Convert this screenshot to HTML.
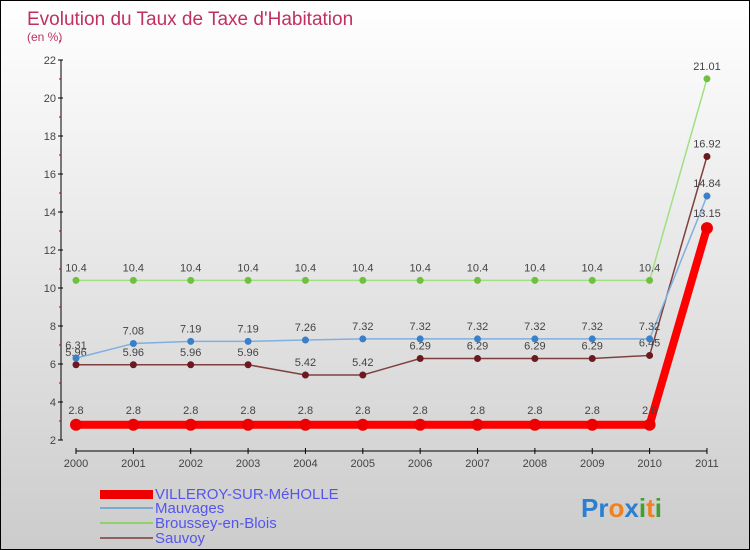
<!DOCTYPE html>
<html><head><meta charset="utf-8"><style>
body{margin:0}
#c{width:748px;height:548px;border:1px solid #000;background:linear-gradient(#fff,#ccc);position:relative;font-family:"Liberation Sans",sans-serif;overflow:hidden}
</style></head><body>
<div id="c">
<svg id="s" width="748" height="548" style="position:absolute;left:0;top:0">
<text x="26" y="24" font-size="19" fill="#c03060">Evolution du Taux de Taxe d'Habitation</text>
<text x="26" y="40" font-size="12" fill="#c03060">(en %)</text>
<g id="axes"></g><g id="marks"></g>
<g>
<rect x="99" y="489" width="53" height="9" fill="#e00"/>
<text x="154" y="498" font-size="15" fill="#5555ee">VILLEROY-SUR-MéHOLLE</text>
<line x1="99" y1="507" x2="152" y2="507" stroke="#7aaad0" stroke-width="2"/>
<text x="154" y="512" font-size="15" fill="#5555ee">Mauvages</text>
<line x1="99" y1="522" x2="152" y2="522" stroke="#90d070" stroke-width="2"/>
<text x="154" y="527" font-size="15" fill="#5555ee">Broussey-en-Blois</text>
<line x1="99" y1="537" x2="152" y2="537" stroke="#906060" stroke-width="2"/>
<text x="154" y="542" font-size="15" fill="#5555ee">Sauvoy</text>
</g>
<text x="580" y="516" font-size="26" font-weight="bold"><tspan fill="#2a7fd0">Pr</tspan><tspan fill="#f08020">o</tspan><tspan fill="#2a7fd0">x</tspan><tspan fill="#40a030">i</tspan><tspan fill="#f08020">t</tspan><tspan fill="#40a030">i</tspan></text>
</svg></div>
<script>
const years=["2000","2001","2002","2003","2004","2005","2006","2007","2008","2009","2010","2011"];
const villeroy=[2.8,2.8,2.8,2.8,2.8,2.8,2.8,2.8,2.8,2.8,2.8,13.15];
const mauvages=[6.31,7.08,7.19,7.19,7.26,7.32,7.32,7.32,7.32,7.32,7.32,14.84];
const broussey=[10.4,10.4,10.4,10.4,10.4,10.4,10.4,10.4,10.4,10.4,10.4,21.01];
const sauvoy=[5.96,5.96,5.96,5.96,5.42,5.42,6.29,6.29,6.29,6.29,6.45,16.92];
const yTicks=[2,4,6,8,10,12,14,16,18,20,22];
const NS="http://www.w3.org/2000/svg";
const X=i=>75+i*57.36, Y=v=>439-(v-2)*19;
const ax=document.getElementById('axes'), mk=document.getElementById('marks');
function el(t,a,p){const e=document.createElementNS(NS,t);for(const k in a)e.setAttribute(k,a[k]);p.appendChild(e);return e;}
let a=el('line',{x1:60,y1:Y(22),x2:60,y2:Y(2),stroke:'#000'},ax);

a=el('line',{x1:X(0),y1:450,x2:X(11),y2:450,stroke:'#000'},ax);

yTicks.forEach(v=>{el('line',{x1:57,y1:Y(v),x2:62,y2:Y(v),stroke:'#000'},ax);
 el('line',{x1:58,y1:Y(v+1),x2:60,y2:Y(v+1),stroke:'#c00'},ax);
 const t=el('text',{x:55,y:Y(v)+4,'font-size':11,fill:'#444','text-anchor':'end'},ax);t.textContent=v;
 });
years.forEach((y,i)=>{el('line',{x1:X(i),y1:447,x2:X(i),y2:453,stroke:'#000'},ax);
 const t=el('text',{x:X(i),y:466,'font-size':11,fill:'#444','text-anchor':'middle'},ax);t.textContent=y;
 });
function series(d,name,line,dot,w,r,dy){
 const g=el('g',{},mk);
 el('polyline',{points:d.map((v,i)=>X(i)+','+Y(v)).join(' '),fill:'none',stroke:line,'stroke-width':w},g);
 d.forEach((v,i)=>{const c=el('circle',{cx:X(i),cy:Y(v),r:r,fill:dot},g);
  
  const t=el('text',{x:X(i),y:Y(v)+dy,'font-size':11,fill:'#444','text-anchor':'middle'},g);t.textContent=v;
  });
}
series(broussey,'broussey','#a0e080','#70c040',1.5,3.5,-9);
series(sauvoy,'sauvoy','#804040','#6a1a20',1.5,3.5,-9);
series(mauvages,'mauvages','#80b0e0','#3a80c8',1.5,3.5,-9);
series(villeroy,'villeroy','#f00','#e00',8,6,-11);
</script></body></html>
